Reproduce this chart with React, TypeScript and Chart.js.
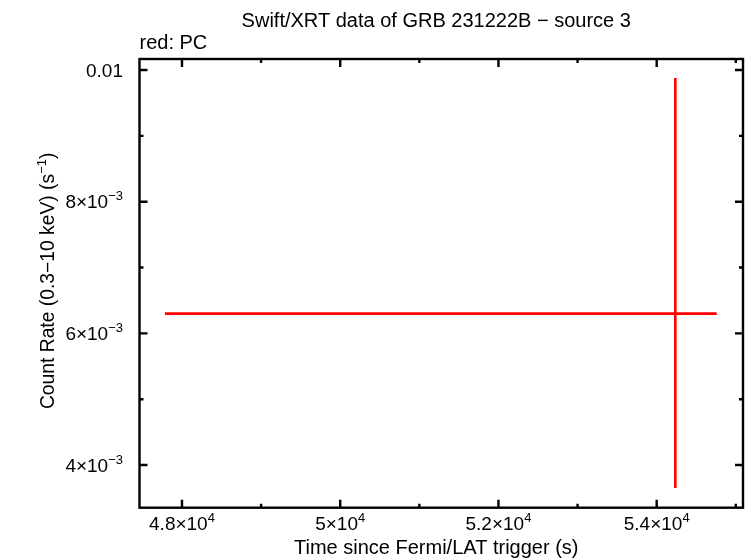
import { useEffect, useRef } from "react";
import { Chart, registerables } from "chart.js";

Chart.register(...registerables);

const chartTitle = "Swift/XRT data of GRB 231222B \u2212 source 3";
const legendNote = "red: PC";
const xAxisTitle = "Time since Fermi/LAT trigger (s)";
const yAxisTitle = "Count Rate (0.3\u221210 keV) (s^{\u22121})";

// one PC-mode bin
const times = [54235];
const timeErrLow = [6450];
const timeErrHigh = [524];
const rates = [0.0063];
const rateErrLow = [0.00265];
const rateErrHigh = [0.00358];

const xRange = [47463, 55091];
const yRange = [0.003352, 0.010167];
const xTickValues = [48000, 49000, 50000, 51000, 52000, 53000, 54000, 55000];
const xTickLabels = ["4.8\u00D710^{4}", "", "5\u00D710^{4}", "", "5.2\u00D710^{4}", "", "5.4\u00D710^{4}", ""];
const yTickValues = [0.004, 0.005, 0.006, 0.007, 0.008, 0.009, 0.01];
const yTickLabels = ["4\u00D710^{\u22123}", "", "6\u00D710^{\u22123}", "", "8\u00D710^{\u22123}", "", "0.01"];

const FONT = "'Liberation Sans', Arial, Helvetica, sans-serif";
const TICK_SIZE = 19;
const TITLE_SIZE = 20;
const YTITLE_SIZE = 19.3;

function labelFor(values: number[], labels: string[], v: number) {
  const i = values.findIndex((t) => Math.abs(t - v) < 1e-9 * Math.max(1, Math.abs(v)));
  return i >= 0 ? labels[i] : "";
}

type Seg = { text: string; sup: boolean };
function parseRich(s: string): Seg[] {
  const out: Seg[] = [];
  const re = /\^\{([^}]*)\}/g;
  let last = 0;
  let m: RegExpExecArray | null;
  while ((m = re.exec(s))) {
    if (m.index > last) out.push({ text: s.slice(last, m.index), sup: false });
    out.push({ text: m[1], sup: true });
    last = m.index + m[0].length;
  }
  if (last < s.length) out.push({ text: s.slice(last), sup: false });
  return out;
}

// draws text whose caps are vertically centred at cy
function drawRich(ctx: CanvasRenderingContext2D, s: string, x: number, cy: number, align: "left" | "center" | "right", size: number) {
  const segs = parseRich(s);
  const supSize = Math.round(size * 0.68);
  let w = 0;
  const widths = segs.map((g) => {
    ctx.font = `${g.sup ? supSize : size}px ${FONT}`;
    const ww = ctx.measureText(g.text).width;
    w += ww;
    return ww;
  });
  let cx = align === "left" ? x : align === "center" ? x - w / 2 : x - w;
  const base = cy + size * 0.358;
  ctx.textAlign = "left";
  ctx.textBaseline = "alphabetic";
  segs.forEach((g, i) => {
    ctx.font = `${g.sup ? supSize : size}px ${FONT}`;
    ctx.fillText(g.text, cx, g.sup ? base - size * 0.42 : base);
    cx += widths[i];
  });
}

const framePlugin = {
  id: "framePlugin",
  afterDatasetsDraw(chart: any) {
    const { ctx, chartArea: a, scales } = chart;
    const xs = scales.x;
    const ys = scales.y;
    ctx.save();
    ctx.beginPath();
    ctx.rect(a.left, a.top, a.right - a.left, a.bottom - a.top);
    ctx.clip();
    ctx.strokeStyle = "#ff0000";
    ctx.lineWidth = 2.6;
    ctx.lineCap = "butt";
    for (let i = 0; i < times.length; i++) {
      const px = xs.getPixelForValue(times[i]);
      const py = ys.getPixelForValue(rates[i]);
      const x0 = xs.getPixelForValue(times[i] - timeErrLow[i]);
      const x1 = xs.getPixelForValue(times[i] + timeErrHigh[i]);
      const y0 = ys.getPixelForValue(rates[i] - rateErrLow[i]);
      const y1 = ys.getPixelForValue(rates[i] + rateErrHigh[i]);
      ctx.beginPath();
      ctx.moveTo(x0, py);
      ctx.lineTo(x1, py);
      ctx.moveTo(px, y0);
      ctx.lineTo(px, y1);
      ctx.stroke();
    }
    ctx.restore();
  },
  afterDraw(chart: any) {
    const { ctx, chartArea: a, scales } = chart;
    const xs = scales.x;
    const ys = scales.y;
    ctx.save();
    ctx.strokeStyle = "#000";
    ctx.lineWidth = 2.4;
    ctx.strokeRect(a.left, a.top, a.right - a.left, a.bottom - a.top);
    ctx.beginPath();
    xTickValues.forEach((v) => {
      const px = xs.getPixelForValue(v);
      if (px < a.left || px > a.right) return;
      const len = labelFor(xTickValues, xTickLabels, v) ? 8 : 4;
      ctx.moveTo(px, a.bottom);
      ctx.lineTo(px, a.bottom - len);
      ctx.moveTo(px, a.top);
      ctx.lineTo(px, a.top + len);
    });
    yTickValues.forEach((v) => {
      const py = ys.getPixelForValue(v);
      if (py < a.top || py > a.bottom) return;
      const len = labelFor(yTickValues, yTickLabels, v) ? 8 : 4;
      ctx.moveTo(a.left, py);
      ctx.lineTo(a.left + len, py);
      ctx.moveTo(a.right, py);
      ctx.lineTo(a.right - len, py);
    });
    ctx.stroke();

    ctx.fillStyle = "#000";
    // tick labels
    xTickValues.forEach((v) => {
      const lab = labelFor(xTickValues, xTickLabels, v);
      if (!lab) return;
      drawRich(ctx, lab, xs.getPixelForValue(v), a.bottom + 15, "center", TICK_SIZE);
    });
    yTickValues.forEach((v) => {
      const lab = labelFor(yTickValues, yTickLabels, v);
      if (!lab) return;
      drawRich(ctx, lab, a.left - 16.5, ys.getPixelForValue(v), "right", TICK_SIZE);
    });

    // titles
    drawRich(ctx, chartTitle, (a.left + a.right) / 2 - 5, 20, "center", TITLE_SIZE);
    drawRich(ctx, legendNote, a.left, 42, "left", TITLE_SIZE);
    drawRich(ctx, xAxisTitle, (a.left + a.right) / 2 - 5, 547, "center", TITLE_SIZE);
    ctx.save();
    ctx.translate(47, (a.top + a.bottom) / 2 - 2.5);
    ctx.rotate(-Math.PI / 2);
    drawRich(ctx, yAxisTitle, 0, 0, "center", YTITLE_SIZE);
    ctx.restore();
    ctx.restore();
  },
};

export default function App() {
  const ref = useRef<HTMLCanvasElement | null>(null);

  useEffect(() => {
    if (!ref.current) return;
    const chart = new Chart(ref.current, {
      type: "scatter",
      data: {
        datasets: [
          {
            label: "PC",
            data: times.map((t, i) => ({ x: t, y: rates[i] })),
            pointRadius: 0,
            borderColor: "#ff0000",
            backgroundColor: "#ff0000",
          },
        ],
      },
      options: {
        animation: false,
        responsive: false,
        layout: { padding: { top: 59, right: 3, left: 0, bottom: 0 } },
        plugins: {
          legend: { display: false },
          tooltip: { enabled: false },
          title: { display: false },
        },
        scales: {
          x: {
            type: "linear",
            min: xRange[0],
            max: xRange[1],
            afterBuildTicks: (s: any) => {
              s.ticks = xTickValues.map((v) => ({ value: v }));
            },
            afterFit: (s: any) => {
              s.height = 50.3;
            },
            grid: { display: false, drawTicks: false },
            border: { display: false },
            ticks: { display: false },
            title: { display: false },
          },
          y: {
            type: "linear",
            min: yRange[0],
            max: yRange[1],
            afterBuildTicks: (s: any) => {
              s.ticks = yTickValues.map((v) => ({ value: v }));
            },
            afterFit: (s: any) => {
              s.width = 139.5;
            },
            grid: { display: false, drawTicks: false },
            border: { display: false },
            ticks: { display: false },
            title: { display: false },
          },
        },
      },
      plugins: [framePlugin],
    } as any);
    return () => chart.destroy();
  }, []);

  return (
    <div style={{ position: "absolute", left: 0, top: 0, width: 746, height: 558, background: "#fff" }}>
      <canvas ref={ref} width={746} height={558} style={{ display: "block", width: 746, height: 558 }} />
    </div>
  );
}
